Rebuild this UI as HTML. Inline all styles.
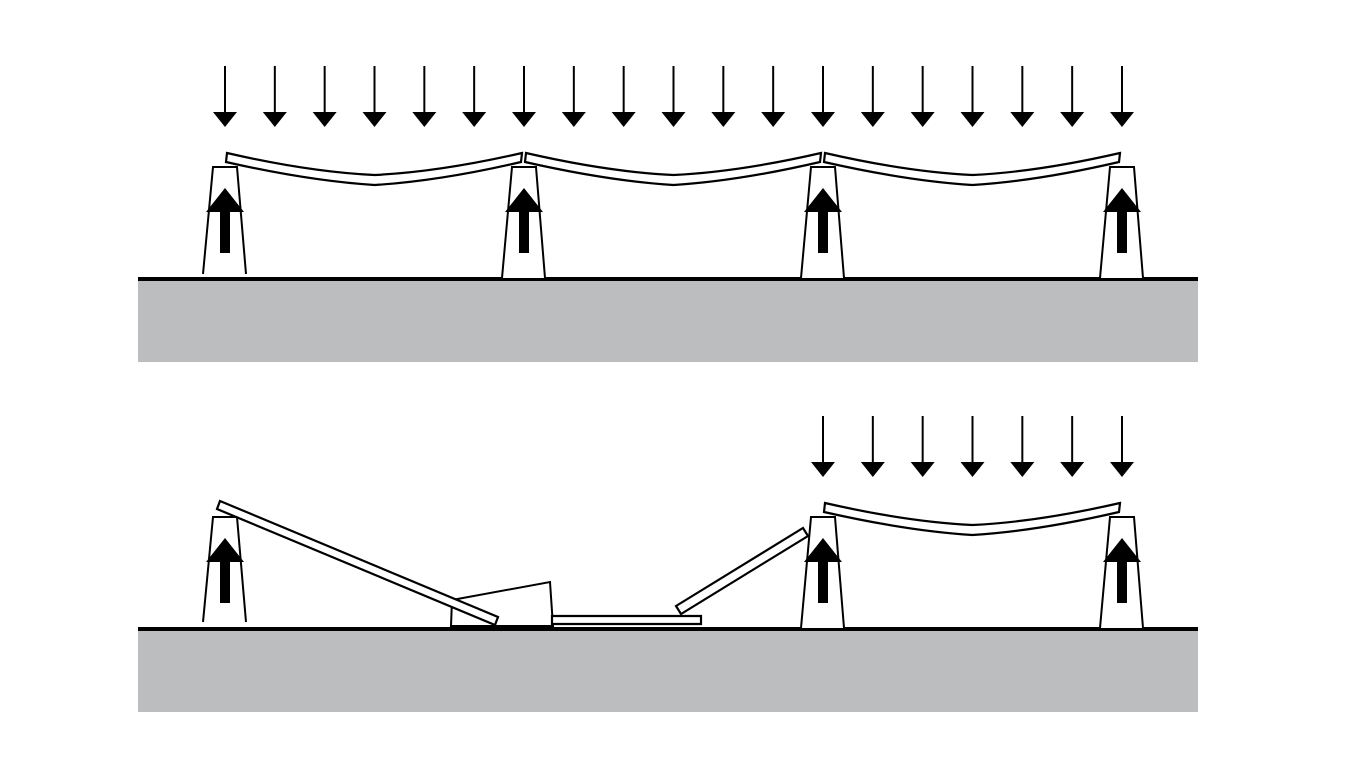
<!DOCTYPE html>
<html><head><meta charset="utf-8"><style>
html,body{margin:0;padding:0;background:#fff;width:1366px;height:768px;overflow:hidden}
</style></head><body>
<svg id="fig" width="1366" height="768" viewBox="0 0 1366 768" xmlns="http://www.w3.org/2000/svg">
<g id="topg"></g>
<g id="botg"></g>
</svg>
<script>
const NS='http://www.w3.org/2000/svg';
const topPiers=[225,524,823,1122];
const botPiers=[225,823,1122];
function mk(parent,tag,attrs,name){
  const el=document.createElementNS(NS,tag);
  for(const k in attrs) el.setAttribute(k,attrs[k]);
  
  
  parent.appendChild(el);return el;
}
function ground(g,y){
  mk(g,'rect',{x:138,y:y,width:1060,height:83,fill:'#bcbdbf'},'ground');
  mk(g,'line',{x1:138,y1:y,x2:1198,y2:y,stroke:'#000','stroke-width':4},'ground-line');
}
function pier(g,cx,t,bottom){
  mk(g,'path',{d:`M${cx-22},${bottom} L${cx-12},${t} L${cx+12},${t} L${cx+21},${bottom}`,fill:'#fff',stroke:'#000','stroke-width':2},'pier');
  mk(g,'polygon',{points:`${cx},${t+21} ${cx+19},${t+45} ${cx+5},${t+45} ${cx+5},${t+86} ${cx-5},${t+86} ${cx-5},${t+45} ${cx-19},${t+45}`,fill:'#000'},'support-reaction-arrow');
}
function downArrow(g,x,y){
  mk(g,'line',{x1:x,y1:y,x2:x,y2:y+48,stroke:'#000','stroke-width':2},'load-arrow-shaft');
  mk(g,'polygon',{points:`${x-12},${y+46} ${x+12},${y+46} ${x},${y+61}`,fill:'#000'},'load-arrow-head');
}
function span(g,x0,x1,y){
  const m=(x0+x1)/2;
  const d=`M${x0+2},${y} Q${(x0+m)/2+10},${y+19} ${m},${y+22} Q${(m+x1)/2-10},${y+19} ${x1-2},${y} L${x1-3},${y+9} Q${(m+x1)/2-10},${y+28} ${m},${y+32} Q${(x0+m)/2+10},${y+28} ${x0+1},${y+9} Z`;
  mk(g,'path',{d:d,fill:'#fff',stroke:'#000','stroke-width':2.2},'deck-span');
}
const topPanel=document.getElementById('topg');
ground(topPanel,279);
for(let i=0;i<19;i++) downArrow(topPanel,225+i*(1122-225)/18,66);
topPiers.forEach((x,i)=>pier(topPanel,x,167,i===0?274:278));
for(let i=0;i<3;i++) span(topPanel,topPiers[i],topPiers[i+1],153);

const botPanel=document.getElementById('botg');
ground(botPanel,629);
for(let i=0;i<7;i++) downArrow(botPanel,823+i*(1122-823)/6,416);
botPiers.forEach((x,i)=>pier(botPanel,x,517,i===0?622:628));
span(botPanel,823,1122,503);
mk(botPanel,'polygon',{points:'452,600 550,582 553,626 451,626',fill:'#fff',stroke:'#000','stroke-width':2},'fallen-pier-block');
mk(botPanel,'polygon',{points:'220,501 498,617 495,625 217,509',fill:'#fff',stroke:'#000','stroke-width':2.2},'fallen-beam-left');
mk(botPanel,'polygon',{points:'552,616 701,616 701,624 552,624',fill:'#fff',stroke:'#000','stroke-width':2.2},'fallen-beam-flat');
mk(botPanel,'polygon',{points:'676,606 803,528 808,536 681,614',fill:'#fff',stroke:'#000','stroke-width':2.2},'fallen-beam-right');
</script>
</body></html>
